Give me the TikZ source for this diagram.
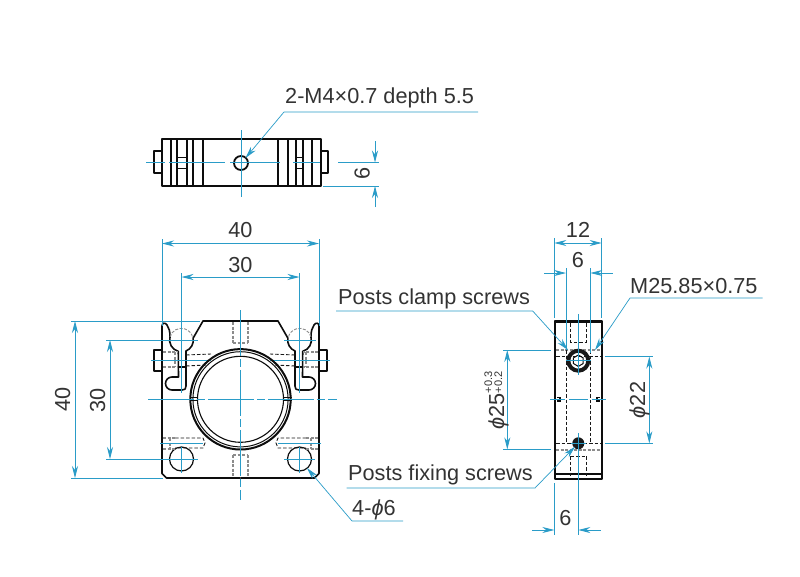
\documentclass[tikz,border=0pt]{standalone}
\usepackage{fontspec}
\setmainfont{Liberation Sans}
\usetikzlibrary{arrows.meta}
\definecolor{dimblue}{HTML}{2A9CC8}
\definecolor{inktext}{HTML}{333333}
\newcommand{\phisym}{\textit{ϕ}}
\newcommand{\tolstack}{\raisebox{2pt}{\fontsize{11}{11}\selectfont\shortstack[l]{+0.3\\[-1pt]+0.2}}}
\begin{document}
\begin{tikzpicture}[x=1pt,y=-1pt,
    part/.style={black!95,line width=1.6pt,line join=round},
    thinpart/.style={black!95,line width=1pt},
    hidden/.style={black!90,line width=.9pt,dash pattern=on 3.5pt off 2pt},
    hiddengray/.style={black!45,line width=1.3pt,dash pattern=on 3pt off 1.5pt},
    axisline/.style={dimblue,line width=.8pt},
    gapline/.style={dimblue,line width=.8pt,dash pattern=on 46pt off 3pt on 8pt off 3pt},
    dimline/.style={dimblue,line width=.8pt},
    tips/.style={{Stealth[length=12pt,width=6pt]}-{Stealth[length=12pt,width=6pt]}},
    tipend/.style={-{Stealth[length=12pt,width=6pt]}},
    leader/.style={dimblue,line width=.7pt},
    lbl/.style={text=inktext,font=\fontsize{21.7}{24}\selectfont,inner sep=0pt,anchor=base},
    lblw/.style={lbl,anchor=base west},
    every node/.style={}]
    \useasboundingbox (0,0) rectangle (800,576);
    \fill[white] (0,0) rectangle (800,576);

    % top view
    \draw[part] (162,139) rectangle (321,186);
    \draw[part] (162,151) -- (154,151) -- (154,173) -- (162,173);
    \draw[part] (321,151) -- (328,151) -- (328,173) -- (321,173);
    \foreach \xa in {171,177,187,193,203,278,288,296,303,312}
        \draw[part] (\xa,139) -- (\xa,186);
    \draw[thinpart] (177,157) -- (187,157) (177,168) -- (187,168);
    \draw[thinpart] (296,157) -- (303,157) (296,168) -- (303,168);
    \draw[part,line width=1.8pt] (241,163) circle (7);
    \draw[axisline] (146,162.5) -- (165,162.5) (169,162.5) -- (225,162.5) (230,162.5) -- (280,162.5)
        (293,162.5) -- (320,162.5) (338,162.5) -- (379,162.5);
    \draw[axisline] (241,130) -- (241,197);
    \draw[dimline] (323,186) -- (379,186);
    \draw[dimline,tipend] (375,141) -- (375,162.5);
    \draw[dimline,tipend] (375,207) -- (375,186);
    \node[lbl,rotate=90] (topsix) at (369.5,173) {6};
    \node[lblw] (topthread) at (285,103) {2-M4×0.7 depth 5.5};
    \coordinate (topthreadtip) at (245.5,158);
    \draw[leader,tipend] (478,112) -- (284,112) -- (topthreadtip);

    % front view
    \foreach \sgn/\off in {1/0,-1/481}{
        \begin{scope}[xshift=\off pt,xscale=\sgn]
            \draw[part] (240.5,478) -- (166.5,478) -- (162,473.5) -- (162,326)
                .. controls (162,323) and (165,322) .. (167,325)
                .. controls (169,328) and (170,331) .. (170,337)
                arc[start angle=195,end angle=105,radius=11.7] -- (178.5,377) -- (172,377)
                arc[start angle=-90,end angle=-270,radius=6.5] -- (182,390)
                .. controls (185,390) and (186,389) .. (186,386) -- (186,351)
                arc[start angle=68,end angle=-10,radius=11.7] -- (203,321) -- (240.5,321);
            \draw[hiddengray,line width=.9pt] (170,337) arc[start angle=195,end angle=350,radius=11.7];
            \draw[part] (178.5,367) -- (186,367);
            \draw[part] (162,350) -- (154,350) -- (154,371) -- (162,371);
            \draw[thinpart,line width=1.2pt] (181.5,459) circle (12);
            % screw heads, hidden
            \draw[hiddengray] (163,352) -- (178,352) (163,367) -- (178,367) (175,352) -- (175,367);
            \draw[hidden] (186,355) -- (211,354) (186,366) -- (206,365);
            \draw[hiddengray] (163,438) -- (175,438) (163,449) -- (175,449) (170,438) -- (170,449);
            \draw[hidden] (175,438) -- (203,438) -- (205,443) -- (203,448) -- (175,448);
            % ring slit
            \draw[thinpart] (189.5,397.6) -- (197.5,397.6) (189.5,400.8) -- (197.5,400.8);
            % centre marks of holes
            \draw[axisline] (181.5,447) -- (181.5,473);
            \draw[axisline] (151,360.7) -- (211,360.7);
            \draw[axisline] (160,443) -- (203,443);
            \draw[axisline] (181.5,273) -- (181.5,393);
        \end{scope}
    }
    \draw[hiddengray] (233,343) -- (248,343);
    \draw[hiddengray] (233,322) -- (233,343) (248,322) -- (248,343);
    \draw[hiddengray] (233,455) -- (248,455) (233,455) -- (233,477) (248,455) -- (248,477);
    \draw[part,line width=2pt] (240.5,399.3) circle (50.2);
    \draw[thinpart] (240.5,399.3) circle (47.6);
    \draw[thinpart,line width=1.1pt] (240.5,399.3) circle (43);
    \draw[gapline] (148,399.3) -- (337,399.3);
    \draw[gapline] (240.5,310) -- (240.5,500);

    \draw[dimline] (284,340) -- (316,340) (284,459) -- (315,459);
    \draw[dimline] (106,340) -- (198,340) (106,459) -- (198,459);
    \draw[dimline] (71,321) -- (200,321) (71,478) -- (163,478);
    \draw[dimline,tips] (75,321) -- (75,478);
    \draw[dimline,tips] (110,340) -- (110,459);
    \node[lbl,rotate=90] (frontforty) at (70,399.5) {40};
    \node[lbl,rotate=90] (frontthirty) at (105,400) {30};
    \draw[dimline] (162,239) -- (162,326) (319,239) -- (319,326);
    \draw[dimline,tips] (162,243.5) -- (319,243.5);
    \draw[dimline,tips] (181.5,277) -- (299.5,277);
    \node[lbl] (widthforty) at (240.5,237) {40};
    \node[lbl] (widththirty) at (240.5,272) {30};
    \node[lblw] (holesix) at (352,515) {4-\phisym6};
    \coordinate (holetip) at (307,468);
    \draw[leader,tipend] (403,521) -- (352,521) -- (holetip);

    % side view
    \draw[part] (555,321) rectangle (602,479);
    \draw[part,line width=2.6pt] (555,322) -- (602,322);
    \draw[part] (555,474) -- (602,474);
    \draw[hidden] (570.7,323) -- (570.7,342) -- (586,342) -- (586,323);
    \draw[hidden] (570.7,456) -- (570.7,478) (586,456) -- (586,478) (570.7,456) -- (586,456);
    \draw[hiddengray] (556,350) -- (601,350) (556,450) -- (601,450);
    \draw[hidden] (556,356.7) -- (601,356.7) (556,443.3) -- (601,443.3);
    \draw[hidden] (566.3,350) -- (566.3,443) (590.3,350) -- (590.3,443);
    \draw[thinpart,line width=1.2pt] (557,397.5) -- (560,397.5) -- (560,401) -- (557,401);
    \draw[thinpart,line width=1.2pt] (600,397.5) -- (597,397.5) -- (597,401) -- (600,401);
    \draw[black!90,line width=4pt] (578.3,360.7) circle (10);
    \draw[thinpart] (578.3,355) -- (583.2,357.9) -- (583.2,363.5) -- (578.3,366.4) -- (573.4,363.5) -- (573.4,357.9) -- cycle;
    \fill[black!90] (578.3,443.3) circle (6);
    \draw[axisline] (578.3,314) -- (578.3,375) (578.3,433) -- (578.3,500);
    \draw[axisline] (566,360.7) -- (591,360.7) (571,443.3) -- (586,443.3);
    \draw[axisline] (550,399) -- (565,399) (569,399) -- (588,399) (592,399) -- (606,399);
    % widths above
    \draw[dimline] (554.3,238) -- (554.3,318) (601.7,238) -- (601.7,318);
    \draw[dimline] (566,268) -- (566,350) (590.3,268) -- (590.3,353);
    \draw[dimline,tips] (554.3,243) -- (601.7,243);
    \draw[dimline,tipend] (544,273) -- (566,273);
    \draw[dimline,tipend] (612.7,273) -- (590.3,273);
    \node[lbl] (sidetwelve) at (578,237) {12};
    \node[lbl] (sidesix) at (578,267.5) {6};
    % diameters
    \draw[dimline] (503,350) -- (551,350) (503,449.3) -- (551,449.3);
    \draw[dimline,tips] (507.3,350) -- (507.3,449.3);
    \node[lbl,rotate=90] (borelabel) at (504,400.5) {\phisym25\tolstack};
    \draw[dimline] (605,356.7) -- (653,356.7) (605,443.3) -- (653,443.3);
    \draw[dimline,tips] (649.3,356.7) -- (649.3,443.3);
    \node[lbl,rotate=90] (threadlabel) at (645,400) {\phisym22};
    % bottom width
    \draw[dimline] (554.3,483) -- (554.3,535) (578.3,483) -- (578.3,535);
    \draw[dimline,tipend] (532,530) -- (554.3,530);
    \draw[dimline,tipend] (600.7,530) -- (578.3,530);
    \node[lbl] (bottomsix) at (565.5,525) {6};
    % leaders
    \node[lblw] (clamp) at (338,304) {Posts clamp screws};
    \node[lblw] (fixing) at (348,480) {Posts fixing screws};
    \node[lblw] (mthread) at (630,293) {M25.85×0.75};
    \coordinate (clamptip) at (568,350);
    \coordinate (fixingtip) at (575,446.7);
    \coordinate (mthreadtip) at (595,350);
    \draw[leader,tipend] (336,311) -- (532.7,311) -- (clamptip);
    \draw[leader,tipend] (346.7,488) -- (535,488) -- (fixingtip);
    \draw[leader,tipend] (762.7,298) -- (630,298) -- (mthreadtip);
\end{tikzpicture}
\end{document}
